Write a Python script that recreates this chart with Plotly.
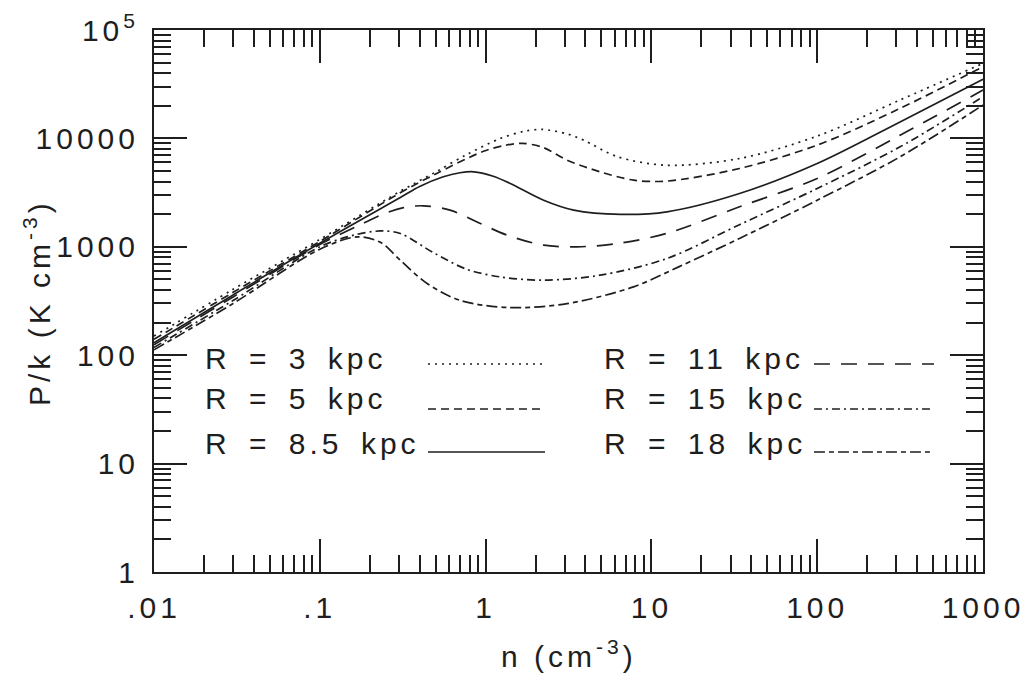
import plotly.graph_objects as go

# ---------------- data ----------------
n_r3 = [0.01, 0.03, 0.1, 0.3, 0.5, 0.77, 1.23, 1.7, 2.2, 3.1, 3.9, 6.2, 12.4, 34, 100, 316, 1000]
p_r3 = [150, 405, 1170, 3200, 4900, 7100, 10000, 11600, 12100, 11000, 9640, 6800, 5650, 6530, 10500, 22600, 49200]

n_r5 = [0.01, 0.03, 0.1, 0.3, 0.5, 0.97, 1.3, 1.66, 2.2, 3.1, 4.9, 7.8, 12.4, 34, 100, 316, 1000]
p_r5 = [140, 380, 1120, 3100, 4700, 7600, 8600, 9000, 8300, 6300, 4920, 4120, 4040, 5280, 8670, 18900, 45800]

n_r85 = [0.01, 0.03, 0.1, 0.306, 0.4, 0.55, 0.7, 0.85, 1.1, 1.41, 2.24, 3.4, 6.5, 12.4, 34, 100, 316, 1000]
p_r85 = [130, 360, 1080, 2850, 3600, 4400, 4820, 4920, 4500, 3840, 2690, 2180, 1990, 2100, 3100, 5870, 14200, 35100]

n_r11 = [0.01, 0.03, 0.1, 0.176, 0.25, 0.32, 0.42, 0.61, 0.93, 1.35, 2.24, 3.56, 6.2, 12.4, 34, 100, 316, 1000]
p_r11 = [125, 345, 1050, 1600, 2050, 2300, 2390, 2180, 1640, 1280, 1035, 1000, 1070, 1330, 2340, 4270, 10700, 27900]

n_r15 = [0.01, 0.03, 0.1, 0.16, 0.232, 0.306, 0.486, 0.77, 1.23, 2.24, 4.9, 12.4, 34, 100, 316, 1000]
p_r15 = [118, 320, 1000, 1280, 1400, 1327, 880, 620, 527, 492, 547, 780, 1600, 3450, 8360, 24200]

n_r18 = [0.01, 0.03, 0.1, 0.168, 0.232, 0.306, 0.444, 0.70, 1.38, 3.1, 7.8, 14.6, 34, 100, 316, 1000]
p_r18 = [112, 300, 950, 1235, 1100, 750, 458, 321, 275, 299, 427, 653, 1195, 2690, 6760, 20300]

labels = ["R = 3 kpc", "R = 5 kpc", "R = 8.5 kpc", "R = 11 kpc", "R = 15 kpc", "R = 18 kpc"]

x_tickvals = [0.01, 0.1, 1, 10, 100, 1000]
x_ticktext = [".01", ".1", "1", "10", "100", "1000"]
y_tickvals = [1, 10, 100, 1000, 10000, 100000]
y_ticktext = ["1", "10", "100", "1000", "10000", "10<sup>5</sup>"]

x_title = "n (cm<sup>-3</sup>)"
y_title = "P/k (K cm<sup>-3</sup>)"

# ---------------- styles ----------------
INK = "#1e1e1e"
FONT = "Liberation Sans, Arial, Helvetica, sans-serif"
FS = 30
dashes = ["2px,5px", "8px,5px", "solid", "16px,11px", "8px,4px,2px,4px", "11px,4px,5px,4px"]
series = [(n_r3, p_r3), (n_r5, p_r5), (n_r85, p_r85), (n_r11, p_r11), (n_r15, p_r15), (n_r18, p_r18)]


def sp(s, ws=0):
    style = "letter-spacing:4px"
    if ws:
        style += ";word-spacing:%dpx" % ws
    return '<span style="' + style + '">' + s + '</span>'


fig = go.Figure()
for (nx, py), lab, d in zip(series, labels, dashes):
    fig.add_trace(go.Scatter(
        x=nx, y=py, mode="lines", name=lab, showlegend=False,
        line=dict(color=INK, width=1.7, dash=d, shape="spline", smoothing=0.9),
        hoverinfo="skip"))

# minor tick positions (axis decoration)
x_minor = [k * 10.0 ** e for e in range(-2, 3) for k in range(2, 10)]
y_minor = [k * 10.0 ** e for e in range(0, 5) for k in range(2, 10)]

axis_common = dict(
    showline=True, linecolor=INK, linewidth=2, mirror="allticks",
    ticks="inside", ticklen=33, tickwidth=1.5, tickcolor=INK,
    showgrid=False, zeroline=False, automargin=False,
    tickfont=dict(family=FONT, size=FS, color=INK),
)

fig.update_xaxes(
    type="log", range=[-2, 3],
    tickmode="array", tickvals=x_tickvals, ticktext=[sp(t) for t in x_ticktext],
    minor=dict(ticks="inside", ticklen=17, tickwidth=1.5, tickcolor=INK,
               tickmode="array", tickvals=x_minor, showgrid=False),
    ticklabelstandoff=8,
    **axis_common)

fig.update_yaxes(
    type="log", range=[0, 5],
    tickmode="array", tickvals=y_tickvals, ticktext=[sp(t) for t in y_ticktext],
    minor=dict(ticks="inside", ticklen=17, tickwidth=1.5, tickcolor=INK,
               tickmode="array", tickvals=y_minor, showgrid=False),
    ticklabelstandoff=7,
    **axis_common)

# axis titles as annotations (precise placement)
fig.add_annotation(xref="paper", yref="paper", x=0.5006, y=-0.152, text=sp(x_title),
                   showarrow=False, xanchor="center", yanchor="middle",
                   font=dict(family=FONT, size=FS, color=INK))
fig.add_annotation(xref="paper", yref="paper", x=-0.1411, y=0.4963, text=sp(y_title),
                   showarrow=False, xanchor="center", yanchor="middle", textangle=-90,
                   font=dict(family=FONT, size=FS, color=INK))

# ---------------- in-plot legend (text + line samples) ----------------
text_x = [0.0591, 0.0591, 0.0591, 0.5404, 0.5404, 0.5404]
text_y = [0.3948, 0.3192, 0.2380, 0.3948, 0.3192, 0.2380]
line_y = [0.3838, 0.3007, 0.2214, 0.3838, 0.3007, 0.2214]
line_x0 = [0.3305, 0.3305, 0.3305, 0.7961, 0.7961, 0.7961]
line_x1 = [0.4717, 0.4717, 0.4717, 0.9409, 0.9409, 0.9409]

for i, lab in enumerate(labels):
    fig.add_annotation(xref="paper", yref="paper", x=text_x[i], y=text_y[i],
                       text=sp(lab, ws=6), showarrow=False, xanchor="left", yanchor="middle",
                       font=dict(family=FONT, size=FS, color=INK))
    fig.add_shape(type="line", xref="paper", yref="paper",
                  x0=line_x0[i], x1=line_x1[i], y0=line_y[i], y1=line_y[i],
                  line=dict(color=INK, width=1.7, dash=dashes[i]))

fig.update_layout(
    width=1028, height=676,
    margin=dict(l=154, r=45, t=30, b=104),
    paper_bgcolor="white", plot_bgcolor="white",
    font=dict(family=FONT, size=FS, color=INK),
)

fig.write_html("out.html", config={"displayModeBar": False},
               post_script="document.body.style.margin='0';document.body.style.overflow='hidden';")
